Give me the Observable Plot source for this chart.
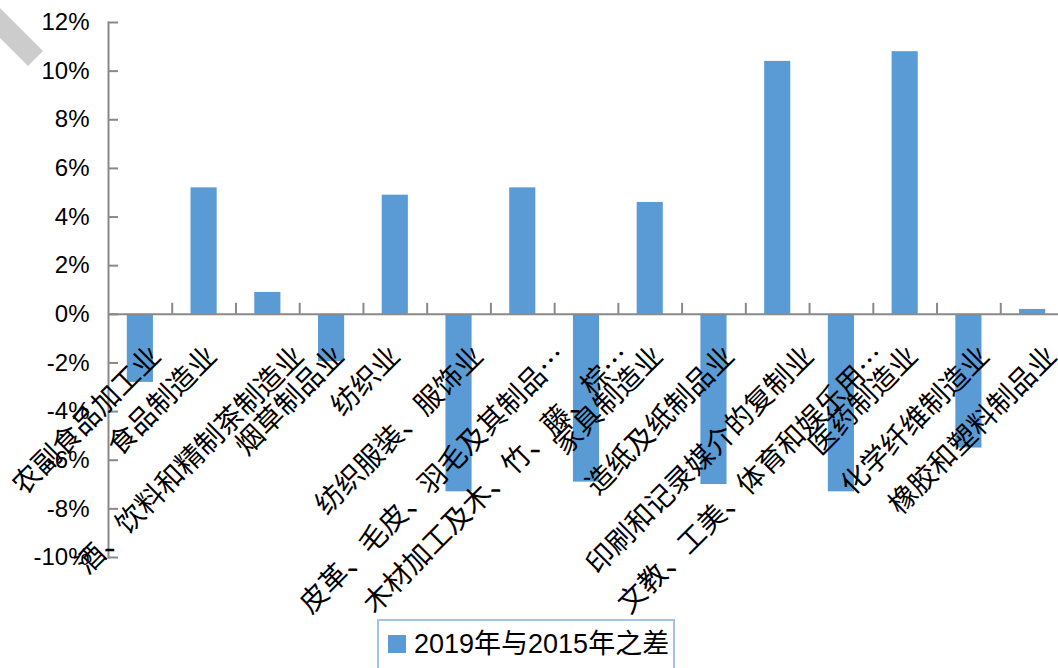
<!DOCTYPE html>
<html>
<head>
<meta charset="utf-8">
<script src="https://cdn.jsdelivr.net/npm/d3@7"></script>
<script src="https://cdn.jsdelivr.net/npm/@observablehq/plot@0.6"></script>
<style>
  html, body { margin: 0; padding: 0; background: #fff; }
  body { width: 1058px; height: 668px; overflow: hidden; position: relative; }
  #deco { position: absolute; left: 0; top: 0; }
  #chart { position: absolute; left: 0; top: 0; }
  #legend {
    position: absolute; left: 377px; top: 619px; width: 298px; height: 60px;
    border: 2px solid #a7c3e3; box-sizing: border-box; background: #fff;
    font-family: 'Liberation Sans', 'Noto Sans CJK SC', sans-serif; font-size: 27px; color: #000;
  }
  #legend .sw { position: absolute; left: 9px; top: 14px; width: 18px; height: 18px; background: #5b9bd5; }
  #legend .tx { position: absolute; left: 35px; top: 7px; white-space: nowrap; line-height: 32px; }
</style>
</head>
<body>
<svg id="deco" width="60" height="80"><polygon points="0,8 43,51 28,66 0,38" fill="#cccccc"></polygon></svg>
<div id="chart"></div>
<div id="legend"><div class="sw"></div><div class="tx"></div></div>
<script>
// Categories (as displayed, truncated labels kept as shown)
const categories = [
  "农副食品加工业",
  "食品制造业",
  "酒、饮料和精制茶制造业",
  "烟草制品业",
  "纺织业",
  "纺织服装、服饰业",
  "皮革、毛皮、羽毛及其制品…",
  "木材加工及木、竹、藤、棕…",
  "家具制造业",
  "造纸及纸制品业",
  "印刷和记录媒介的复制业",
  "文教、工美、体育和娱乐用…",
  "医药制造业",
  "化学纤维制造业",
  "橡胶和塑料制品业"
];
// Difference 2019 vs 2015 (fraction)
const values = [
  -0.028, 0.052, 0.009, -0.0195, 0.049, -0.073, 0.052, -0.069,
  0.046, -0.070, 0.104, -0.073, 0.108, -0.055, 0.002
];
const seriesName = "2019年与2015年之差";
const yTicks = [-0.10, -0.08, -0.06, -0.04, -0.02, 0, 0.02, 0.04, 0.06, 0.08, 0.10, 0.12];

document.querySelector("#legend .tx").textContent = seriesName;

const data = categories.map((c, i) => ({cat: c, value: values[i]}));

const W = 1058, H = 615;
const pLeft = 108, pRight = 1064, pTop = 22, pBottom = 557;
const step = (pRight - pLeft) / categories.length;
const gray = "#898989";
const font = "'Liberation Sans', 'Noto Sans CJK SC', sans-serif";
const cjk = "'Noto Sans CJK SC', sans-serif";
const tickLen = 11 / ((pBottom - pTop) / 0.22);

const labelMarks = categories.map((c) =>
  Plot.text([c], {
    x: d => d, y: d => 0, text: d => d,
    rotate: -45, textAnchor: "end", lineAnchor: "middle",
    fontSize: 28, fontFamily: cjk, fill: "#000",
    dx: 3.9 * [...c].length - 11.5, dy: 37
  })
);

const plot = Plot.plot({
  width: W, height: H,
  marginLeft: pLeft, marginRight: 0, marginTop: pTop, marginBottom: H - pBottom,
  style: {fontFamily: font, fontSize: "24px", color: "#000", background: "transparent", overflow: "visible"},
  x: {domain: categories, range: [pLeft, pRight], paddingInner: 0.59, paddingOuter: 0.295, round: false, axis: null},
  y: {domain: [-0.10, 0.12], range: [pBottom, pTop], axis: null},
  marks: [
    Plot.barY(data, {x: "cat", y: "value", fill: "#5b9bd5"}),
    Plot.frame({anchor: "left", stroke: gray, strokeWidth: 2}),
    Plot.ruleY([0], {stroke: gray, strokeWidth: 2}),
    Plot.ruleX(categories.slice(1), {x: d => d, y1: d => 0, y2: d => tickLen, dx: -step / 2, stroke: gray, strokeWidth: 2}),
    Plot.axisY(yTicks, {anchor: "left", tickSize: 0, tickPadding: 19, tickFormat: d => Math.round(d * 100) + "%", fontSize: 24, fill: "#000", label: null}),
    Plot.axisY(yTicks, {anchor: "left", tickSize: 10, dx: 10, fill: "none", stroke: gray, strokeWidth: 2, label: null}),
    ...labelMarks
  ]
});
document.getElementById("chart").appendChild(plot);
</script>
</body>
</html>
